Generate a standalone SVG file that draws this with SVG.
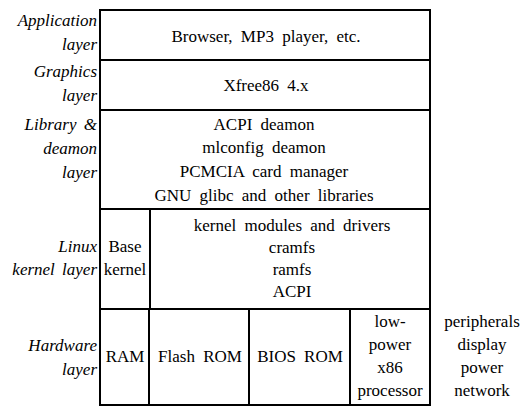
<svg xmlns="http://www.w3.org/2000/svg" width="522" height="407" viewBox="0 0 522 407">
<style>
.box{fill:#fff;stroke:#000;stroke-width:2}
.t{font-family:"Liberation Serif","Times New Roman",serif;font-size:17px;fill:#000;text-anchor:middle;word-spacing:4px}
.l{font-family:"Liberation Serif","Times New Roman",serif;font-size:17px;font-style:italic;fill:#000;text-anchor:end;word-spacing:3px}
</style>
<rect width="522" height="407" fill="#fff"/>
<g id="labels">
<text class="l" x="97" y="26">Application</text>
<text class="l" x="97" y="50">layer</text>
<text class="l" x="97" y="77">Graphics</text>
<text class="l" x="97" y="101">layer</text>
<text class="l" x="97" y="130">Library &amp;</text>
<text class="l" x="97" y="154">deamon</text>
<text class="l" x="97" y="178">layer</text>
<text class="l" x="97" y="252">Linux</text>
<text class="l" x="97" y="275">kernel layer</text>
<text class="l" x="97" y="351">Hardware</text>
<text class="l" x="97" y="375">layer</text>
</g>
<g id="app">
<rect class="box" x="100" y="10" width="330" height="50"/>
<text class="t" x="266" y="42">Browser, MP3 player, etc.</text>
</g>
<g id="graphics">
<rect class="box" x="100" y="60" width="330" height="50"/>
<text class="t" x="266" y="91">Xfree86 4.x</text>
</g>
<g id="library">
<rect class="box" x="100" y="110" width="330" height="99"/>
<text class="t" x="264" y="130">ACPI deamon</text>
<text class="t" x="264" y="153">mlconfig deamon</text>
<text class="t" x="264" y="177">PCMCIA card manager</text>
<text class="t" x="264" y="201">GNU glibc and other libraries</text>
</g>
<g id="base-kernel">
<rect class="box" x="100" y="209" width="50" height="100"/>
<text class="t" x="125" y="252">Base</text>
<text class="t" x="125" y="275">kernel</text>
</g>
<g id="kernel-modules">
<rect class="box" x="150" y="209" width="280" height="100"/>
<text class="t" x="292" y="231">kernel modules and drivers</text>
<text class="t" x="292" y="253">cramfs</text>
<text class="t" x="292" y="275">ramfs</text>
<text class="t" x="292" y="297">ACPI</text>
</g>
<g id="ram">
<rect class="box" x="100" y="309" width="49" height="96"/>
<text class="t" x="125" y="362">RAM</text>
</g>
<g id="flash">
<rect class="box" x="149" y="309" width="100" height="96"/>
<text class="t" x="200" y="362">Flash ROM</text>
</g>
<g id="bios">
<rect class="box" x="249" y="309" width="101" height="96"/>
<text class="t" x="300" y="362">BIOS ROM</text>
</g>
<g id="cpu">
<rect class="box" x="350" y="309" width="80" height="96"/>
<text class="t" x="390" y="327">low-</text>
<text class="t" x="390" y="350">power</text>
<text class="t" x="390" y="373">x86</text>
<text class="t" x="390" y="396">processor</text>
</g>
<g id="peripherals">
<text class="t" x="482" y="327">peripherals</text>
<text class="t" x="482" y="350">display</text>
<text class="t" x="482" y="373">power</text>
<text class="t" x="482" y="396">network</text>
</g>
<g id="connectors"/>
</svg>
